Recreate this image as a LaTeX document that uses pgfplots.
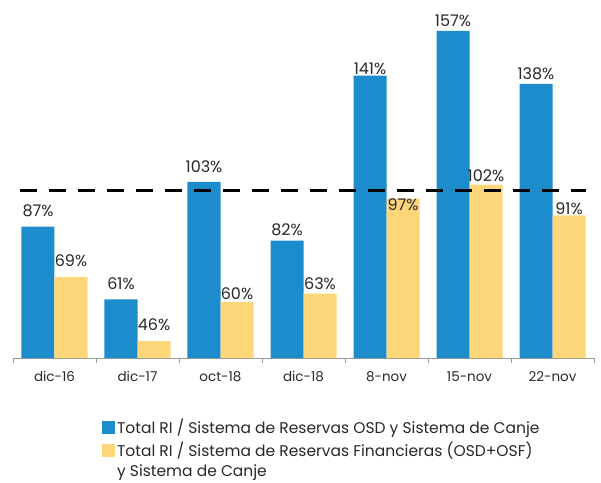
\documentclass[border=0pt]{standalone}
\usepackage{fontspec}
\setmainfont{Poppins}
\usepackage{pgfplots}
\pgfplotsset{compat=1.18}
\definecolor{cblue}{RGB}{28,140,205}
\definecolor{cyel}{RGB}{254,214,122}
\definecolor{ctext}{RGB}{40,40,40}
\pgfplotstableread{
x y g
0 87 10
1 61 9
2 103 9
3 82 5
4 141 1
5 157 4
6 138 4
}\blue
\pgfplotstableread{
x y g
0 69 10
1 46 10
2 60 2
3 63 4
4 97 -12
5 102 3
6 91 0
}\yel
\begin{document}
\begin{tikzpicture}
\begin{axis}[
 scale only axis, width=581pt, height=358pt,
 ymin=40, ymax=168, xmin=-0.5, xmax=6.5,
 ybar=0pt, bar width=33pt,
 axis x line*=bottom, axis y line=none,
 x axis line style={gray!80, line width=0.8pt, -},
 xtick={0,...,6}, xticklabels={dic-16,dic-17,oct-18,dic-18,8-nov,15-nov,22-nov},
 major tick length=0pt,
 minor xtick={-0.5,0.5,...,6.5},
 minor tick length=5pt, tick align=outside,
 minor tick style={gray!80, line width=0.8pt},
 xticklabel style={font=\fontsize{13.5}{15}\selectfont, text=ctext, yshift=-10pt},
 /pgf/number format/assume math mode=true,
 legend style={draw=none, at={(0.153,-0.165)}, anchor=north west,
   cells={anchor=west, align=left}, font=\fontsize{15.5}{19.5}\selectfont,
   text=ctext, row sep=3pt, inner sep=0pt},
]
\addplot[fill=cblue, draw=none,
  nodes near coords={\pgfmathprintnumber{\pgfplotspointmeta}\%},
  visualization depends on={\thisrow{g} \as \lblgap},
  every node near coord/.append style={font=\fontsize{16}{18}\selectfont, text=ctext,
     anchor=south, inner sep=0pt, yshift=\lblgap pt},
  legend image code/.code={\fill[cblue] (0pt,-6.5pt) rectangle (13pt,6.5pt);}]
  table[x=x, y=y] {\blue};
\addplot[fill=cyel, draw=none,
  nodes near coords={\pgfmathprintnumber{\pgfplotspointmeta}\%},
  visualization depends on={\thisrow{g} \as \lblgap},
  every node near coord/.append style={font=\fontsize{16}{18}\selectfont, text=ctext,
     anchor=south, inner sep=0pt, yshift=\lblgap pt},
  legend image code/.code={\fill[cyel] (0pt,3.25pt) rectangle (13pt,16.25pt);}]
  table[x=x, y=y] {\yel};
\addplot[forget plot, sharp plot, black, line width=3pt, dash pattern=on 17pt off 12pt]
  coordinates {(-0.42,100) (6.4,100)};
\legend{Total RI / Sistema de Reservas OSD y Sistema de Canje,{Total RI / Sistema de Reservas Financieras (OSD+OSF)\\y Sistema de Canje}}
\end{axis}
\pgfresetboundingbox
\path (-13pt,-124pt) rectangle (588pt,358pt);
\end{tikzpicture}
\end{document}
